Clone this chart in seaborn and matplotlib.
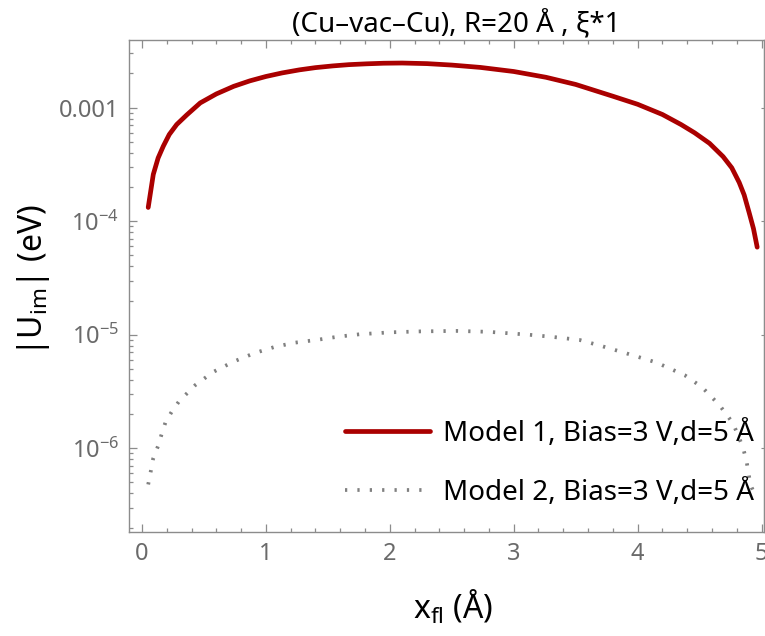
import numpy as np
import pandas as pd
import matplotlib
matplotlib.use("Agg")
import matplotlib.pyplot as plt
import matplotlib.ticker as mticker
import seaborn as sns

# ---- data ----
x_model1 = [0.05, 0.091, 0.13, 0.172, 0.22, 0.28, 0.36, 0.47, 0.60, 0.74, 0.87, 1.0, 1.13,
            1.27, 1.40, 1.54, 1.67, 1.81, 1.95, 2.10, 2.30, 2.50, 2.73, 3.0, 3.26, 3.50,
            3.80, 4.0, 4.20, 4.35, 4.46, 4.58, 4.69, 4.76, 4.82, 4.86, 4.90, 4.935, 4.965]
y_model1 = [1.32e-4, 2.58e-4, 3.6e-4, 4.58e-4, 5.8e-4, 7.1e-4, 8.6e-4, 1.10e-3, 1.32e-3,
            1.54e-3, 1.72e-3, 1.88e-3, 2.02e-3, 2.15e-3, 2.25e-3, 2.33e-3, 2.39e-3, 2.43e-3,
            2.46e-3, 2.47e-3, 2.44e-3, 2.37e-3, 2.26e-3, 2.08e-3, 1.85e-3, 1.60e-3, 1.26e-3,
            1.07e-3, 8.7e-4, 7.1e-4, 6.0e-4, 4.85e-4, 3.7e-4, 2.95e-4, 2.19e-4, 1.70e-4,
            1.19e-4, 8.6e-5, 5.9e-5]

x_model2 = [0.05, 0.07, 0.09, 0.13, 0.16, 0.19, 0.24, 0.30, 0.43, 0.575, 0.74, 0.91, 1.07,
            1.23, 1.41, 1.58, 1.76, 2.01, 2.25, 2.54, 2.80, 3.12, 3.30, 3.53, 3.70, 3.90,
            4.15, 4.38, 4.52, 4.66, 4.77, 4.85, 4.88, 4.91, 4.95]
y_model2 = [4.8e-7, 6.2e-7, 8.1e-7, 1.05e-6, 1.35e-6, 1.7e-6, 2.1e-6, 2.6e-6, 3.6e-6, 4.7e-6,
            5.8e-6, 6.9e-6, 7.8e-6, 8.5e-6, 9.0e-6, 9.6e-6, 1.01e-5, 1.05e-5, 1.07e-5,
            1.08e-5, 1.06e-5, 1.0e-5, 9.6e-6, 9.0e-6, 8.0e-6, 6.9e-6, 5.7e-6, 4.4e-6,
            3.45e-6, 2.4e-6, 1.66e-6, 1.02e-6, 7.6e-7, 4.8e-7, 3.8e-7]

label_model1 = "Model 1, Bias=3 V,d=5 Å"
label_model2 = "Model 2, Bias=3 V,d=5 Å"

x_ticks = [0, 1, 2, 3, 4, 5]
x_ticklabels = ["0", "1", "2", "3", "4", "5"]
y_ticks = [1e-6, 1e-5, 1e-4, 1e-3]
y_ticklabels = [r"$10^{-6}$", r"$10^{-5}$", r"$10^{-4}$", "0.001"]

title = "(Cu–vac–Cu), R=20 Å , ξ*1"
xlabel = r"x$_{\mathrm{fl}}$ (Å)"
ylabel = r"|U$_{\mathrm{im}}$| (eV)"

# ---- style ----
sns.set_style("ticks")
plt.rcParams["font.family"] = ["Noto Sans", "DejaVu Sans"]
plt.rcParams["mathtext.fontset"] = "custom"
plt.rcParams["mathtext.rm"] = "Noto Sans"
plt.rcParams["mathtext.it"] = "Noto Sans:italic"
plt.rcParams["mathtext.bf"] = "Noto Sans:bold"

GRAY_TXT = "#6a6a6a"
GRAY_AX = "#8c8c8c"
RED = "#aa0000"
GRAY_LINE = "#808080"

fig = plt.figure(figsize=(7.65, 6.36), dpi=100)
ax = fig.add_axes([129 / 765, 1 - 532 / 636, (764 - 129) / 765, (532 - 40) / 636])

df1 = pd.DataFrame({"x": x_model1, "y": y_model1})
df2 = pd.DataFrame({"x": x_model2, "y": y_model2})

sns.lineplot(data=df1, x="x", y="y", ax=ax, color=RED, linewidth=3.4,
             label=label_model1, sort=False, solid_joinstyle="round")
sns.lineplot(data=df2, x="x", y="y", ax=ax, color=GRAY_LINE, linewidth=2.7,
             linestyle=(0, (0.6, 2.7)), label=label_model2, sort=False)

ax.set_yscale("log")
ax.set_xlim(-0.105, 5.02)
ax.set_ylim(1.83e-7, 3.94e-3)

ax.xaxis.set_major_locator(mticker.FixedLocator(x_ticks))
ax.xaxis.set_major_formatter(mticker.FixedFormatter(x_ticklabels))
ax.xaxis.set_minor_locator(mticker.MultipleLocator(0.2))
ax.yaxis.set_major_locator(mticker.FixedLocator(y_ticks))
ax.yaxis.set_major_formatter(mticker.FixedFormatter(y_ticklabels))
ax.yaxis.set_minor_locator(mticker.LogLocator(base=10, subs=np.arange(2, 10)))
ax.yaxis.set_minor_formatter(mticker.NullFormatter())

for s in ax.spines.values():
    s.set_color(GRAY_AX)
    s.set_linewidth(1.0)

ax.tick_params(axis="both", which="both", direction="in", color=GRAY_AX, width=0.9,
               labelcolor=GRAY_TXT, labelsize=17, pad=7)
ax.tick_params(axis="x", which="both", top=True)
ax.tick_params(axis="y", which="both", right=False)
ax.tick_params(which="major", length=6)
ax.tick_params(which="minor", length=3.2)

sec = ax.secondary_yaxis("right")
sec.set_yticks(y_ticks)
sec.yaxis.set_minor_locator(mticker.NullLocator())
sec.tick_params(direction="in", length=2, color=GRAY_AX, labelright=False)
sec.spines["right"].set_color(GRAY_AX)

ax.set_title(title, fontsize=20, color="black", pad=5, x=0.515)
ax.set_xlabel(xlabel, fontsize=23, color="black")
ax.set_ylabel(ylabel, fontsize=23, color="black")
ax.xaxis.set_label_coords(0.51, -0.115)
ax.yaxis.set_label_coords(-0.122, 0.512)

leg = ax.legend(loc="upper left", bbox_to_anchor=(0.34, 0.228), frameon=False,
                fontsize=20, handlelength=3.06, handletextpad=0.47, labelspacing=1.13,
                borderpad=0, borderaxespad=0)
for t in leg.get_texts():
    t.set_color("black")

fig.savefig("out.png", dpi=100)
